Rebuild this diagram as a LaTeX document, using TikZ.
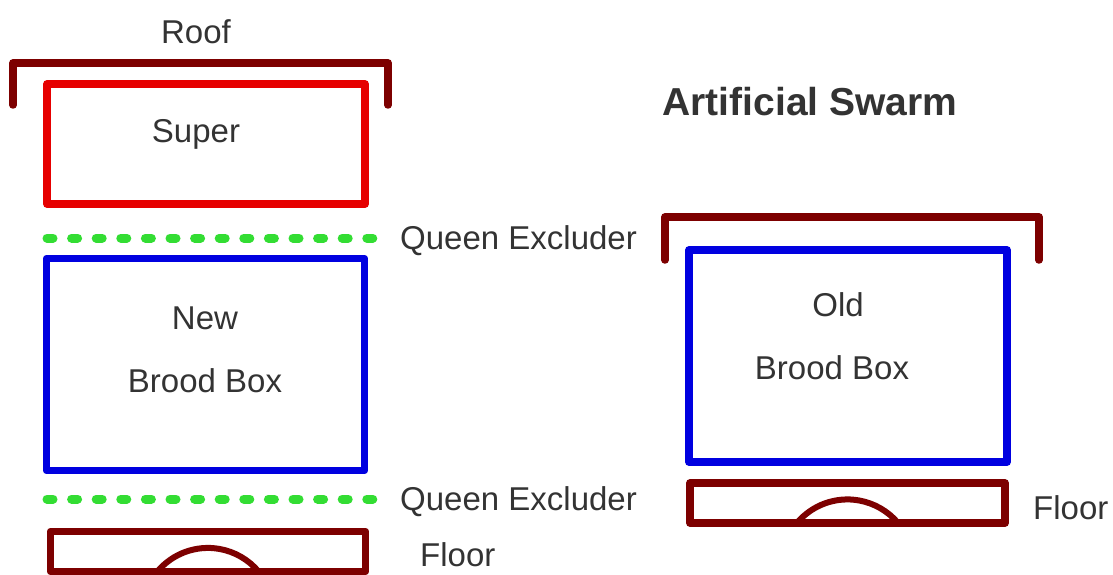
\documentclass[tikz,border=0pt]{standalone}
\usepackage{fontspec}
\setmainfont{Liberation Sans}
\usepackage{xcolor}
\usepackage{tikz}
\usetikzlibrary{
  positioning
}
\definecolor{HiveMaroon}{HTML}{7D0000}
\definecolor{HiveRed}{HTML}{E60000}
\definecolor{HiveBlue}{HTML}{0000E0}
\definecolor{HiveGreen}{HTML}{33DD33}
\definecolor{HiveText}{HTML}{333333}
\tikzset{
  hivebox/.style={
    draw,
    line width=7.5pt,
    line join=round,
    minimum width=318pt,
    inner sep=0pt,
    outer sep=0pt
  },
  superbox/.style={
    hivebox,
    draw=HiveRed,
    minimum height=120pt
  },
  broodbox/.style={
    hivebox,
    draw=HiveBlue,
    minimum height=212pt
  },
  floorbox/.style={
    hivebox,
    draw=HiveMaroon,
    minimum width=315pt,
    minimum height=40pt
  },
  roof/.style={
    draw=HiveMaroon,
    line width=7.5pt,
    line cap=round,
    line join=round
  },
  excluder/.style={
    draw=HiveGreen,
    line width=9pt,
    line cap=round,
    dash pattern=on 6pt off 18.6pt
  },
  entrance/.style={
    draw=HiveMaroon,
    line width=6pt
  },
  hivetext/.style={
    text=HiveText,
    font=\fontsize{33}{40}\selectfont,
    inner sep=0pt,
    text height=23.6pt,
    text depth=0pt
  },
  titletext/.style={
    hivetext,
    font=\fontsize{39}{46}\selectfont\bfseries,
    text height=27.9pt
  }
}

\begin{document}
\begin{tikzpicture}[x=1pt, y=-1pt]

  \useasboundingbox (0,0) rectangle (1113,575);

  % left hive: new brood box
  \node[superbox] (super) at (206,144) {};
  \node[broodbox] (newbrood) at (205.5,364.5) {};
  \node[floorbox] (floorleft) at (208,551.5) {};

  \node[hivetext] (rooflabel) at (196,32) {Roof};
  \node[hivetext] (superlabel) at (196,131) {Super};
  \node[hivetext] (newlabel) at (205,318) {New};
  \node[
    hivetext,
    below=38.4pt of newlabel
  ] (newbroodlabel) {Brood Box};

  \coordinate (roofleftA) at (13,105);
  \coordinate (roofleftB) at (388,63);
  \draw[roof] (roofleftA) |- (roofleftB) -- (roofleftB |- roofleftA);

  \coordinate (qetopA) at (47,238);
  \coordinate (qetopB) at (373,238);
  \draw[excluder] (qetopA) -- (qetopB);
  \node[
    hivetext,
    anchor=west,
    right=27pt of qetopB
  ] (qetoplabel) {Queen Excluder};

  \coordinate (qelowA) at (47,499);
  \coordinate (qelowB) at (373,499);
  \draw[excluder] (qelowA) -- (qelowB);
  \node[
    hivetext,
    anchor=west,
    right=27pt of qelowB
  ] (qelowlabel) {Queen Excluder};

  \draw[entrance]
    ([xshift=-50.6pt]floorleft.south)
    arc[start angle=140, end angle=40, radius=66pt];
  \node[hivetext, anchor=west] (floorleftlabel) at (420,555) {Floor};

  % right hive: old brood box
  \node[titletext] (title) at (810,102) {Artificial Swarm};

  \node[broodbox] (oldbrood) at (848,356) {};
  \node[floorbox] (floorright) at (847.5,503) {};

  \coordinate (roofrightA) at (665,260);
  \coordinate (roofrightB) at (1039,217);
  \draw[roof] (roofrightA) |- (roofrightB) -- (roofrightB |- roofrightA);

  \node[hivetext] (oldlabel) at (838,305) {Old};
  \node[
    hivetext,
    below=38.4pt of oldlabel,
    xshift=-6pt
  ] (oldbroodlabel) {Brood Box};

  \draw[entrance]
    ([xshift=-50.6pt]floorright.south)
    arc[start angle=140, end angle=40, radius=66pt];
  \node[hivetext, anchor=west] (floorrightlabel) at (1033,508) {Floor};

\end{tikzpicture}
\end{document}
